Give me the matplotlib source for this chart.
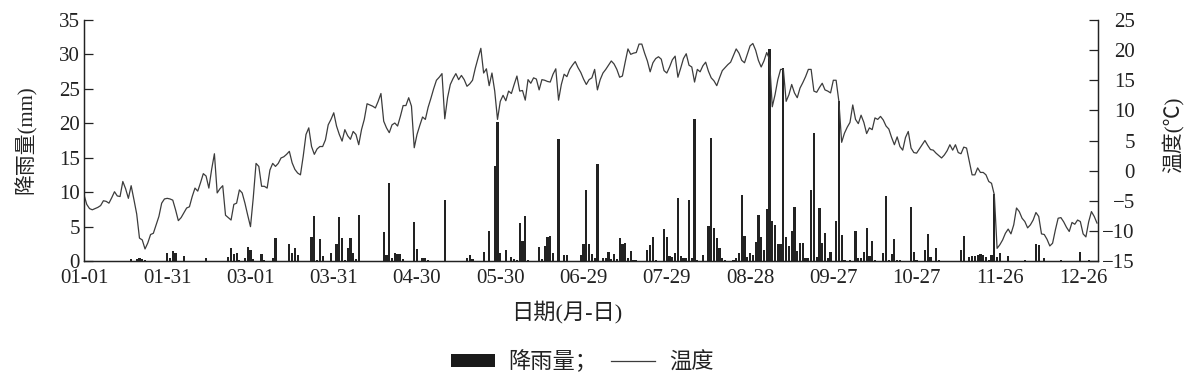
import numpy as np
import matplotlib.pyplot as plt
from matplotlib.patches import Rectangle
from matplotlib.lines import Line2D

# daily mean temperature (°C), 2016-01-01 .. 2016-12-31
temp = [
    -4.0, -5.6, -6.3, -6.5, -6.3, -6.1, -5.8, -5.0, -5.1, -5.4,
    -4.5, -3.5, -4.2, -4.3, -1.8, -3.0, -4.6, -2.5, -4.8, -7.2,
    -11.2, -11.5, -13.0, -12.0, -10.6, -10.4, -9.0, -7.6, -5.4, -4.7,
    -4.6, -4.7, -4.9, -6.5, -8.3, -7.8, -7.0, -6.2, -6.0, -4.3,
    -2.9, -3.4, -2.0, -0.5, -0.9, -2.9, 0.2, 2.8, -3.7, -3.0,
    -2.5, -7.4, -7.8, -8.2, -5.6, -5.4, -3.2, -3.7, -5.4, -7.4,
    -9.3, -4.5, 1.2, 0.7, -2.6, -2.6, -2.9, 0.1, 1.2, 0.7,
    1.2, 2.1, 2.3, 2.7, 3.2, 1.3, 0.2, -0.4, -0.7, 2.4,
    6.0, 7.1, 4.0, 2.7, 3.6, 4.0, 4.0, 5.1, 7.6, 8.5,
    9.6, 7.4, 6.0, 4.9, 6.8, 5.8, 5.2, 6.5, 6.0, 4.3,
    6.8, 8.5, 11.1, 10.9, 10.7, 10.4, 11.5, 12.8, 8.2, 7.1,
    6.3, 7.6, 7.9, 7.4, 9.0, 10.8, 10.8, 12.1, 10.7, 3.8,
    6.0, 7.5, 8.9, 8.5, 10.5, 12.0, 13.6, 15.0, 15.5, 16.1,
    8.6, 12.1, 14.3, 15.3, 16.1, 15.1, 15.8, 15.1, 14.0, 14.4,
    15.0, 17.0, 18.7, 20.3, 16.2, 16.9, 14.1, 16.2, 13.2, 8.5,
    11.5, 12.5, 11.6, 13.2, 12.8, 14.3, 15.7, 13.2, 13.3, 11.7,
    15.1, 14.5, 15.4, 15.2, 13.4, 15.1, 15.0, 14.8, 14.7, 16.0,
    16.9, 11.7, 14.3, 16.0, 15.6, 16.8, 17.5, 18.1, 17.1, 16.3,
    15.2, 14.3, 15.1, 15.4, 16.8, 13.4, 15.1, 16.2, 16.8, 17.5,
    18.2, 17.7, 16.8, 15.5, 15.7, 18.0, 20.2, 19.3, 19.5, 19.6,
    21.0, 21.0, 19.5, 18.2, 16.4, 17.9, 18.6, 18.9, 18.5, 16.6,
    16.2, 17.2, 18.4, 19.0, 15.5, 17.0, 18.6, 19.4, 17.5, 17.2,
    14.7, 16.8, 16.4, 17.4, 18.0, 16.5, 15.4, 14.9, 14.1, 15.4,
    16.6, 17.1, 17.6, 18.0, 19.1, 20.2, 19.5, 18.3, 17.9, 19.3,
    20.7, 21.1, 20.0, 18.3, 17.2, 18.2, 19.6, 18.5, 10.6, 12.6,
    15.1, 16.8, 16.8, 11.5, 12.6, 14.3, 12.9, 12.1, 13.7, 14.6,
    15.6, 16.8, 16.8, 13.2, 13.0, 13.8, 14.5, 13.4, 13.2, 12.9,
    15.0, 15.0, 11.5, 4.7, 6.2, 7.2, 8.0, 10.9, 8.5, 7.8,
    9.2, 8.0, 6.15, 7.1, 6.8, 8.75, 8.5, 9.0, 8.4, 7.4,
    6.9, 5.5, 4.3, 5.6, 4.0, 3.4, 5.5, 6.5, 3.75, 3.0,
    2.9, 3.6, 4.3, 5.0, 4.2, 3.5, 3.4, 2.9, 2.5, 2.1,
    2.6, 3.3, 4.3, 3.4, 4.3, 3.0, 2.8, 3.9, 3.75, 1.55,
    -0.7, -0.7, 0.45, -0.3, -0.3, -0.7, -1.8, -2.1, -4.0, -12.9,
    -12.3, -11.5, -10.4, -9.7, -10.5, -9.0, -6.2, -6.8, -7.9, -8.45,
    -9.5, -9.0, -8.2, -6.95, -7.6, -10.5, -10.6, -11.4, -12.5, -12.05,
    -9.85, -7.9, -7.8, -8.5, -9.4, -10.1, -8.6, -8.9, -8.2, -8.45,
    -10.5, -11.0, -8.5, -6.8, -7.6, -8.7,
]

# daily rainfall (mm)
rain = [
    0, 0, 0, 0, 0, 0, 0, 0, 0, 0,
    0, 0, 0, 0, 0, 0, 0, 0.25, 0, 0.3,
    0.4, 0.3, 0.2, 0, 0, 0, 0, 0, 0, 0,
    1.1, 0.4, 1.5, 1.2, 0, 0, 0.7, 0, 0, 0,
    0, 0, 0, 0, 0.4, 0, 0, 0, 0, 0,
    0, 0, 0.6, 1.85, 1.0, 1.1, 0.2, 0, 0.5, 2.0,
    1.6, 0.3, 0, 0, 1.0, 0.2, 0, 0, 0.5, 3.4,
    0, 0, 0, 0, 2.4, 1.1, 1.85, 0.9, 0, 0,
    0, 0, 3.45, 6.5, 0.2, 3.15, 0.7, 0, 0, 1.1,
    0, 2.5, 6.35, 3.4, 0.2, 1.85, 3.35, 1.2, 0.3, 6.7,
    0, 0, 0, 0, 0, 0, 0, 0, 4.2, 0.9,
    11.4, 0.5, 1.2, 1.0, 1.0, 0.3, 0, 0, 0, 5.7,
    1.75, 0, 0.5, 0.5, 0.2, 0, 0, 0, 0, 0,
    8.8, 0, 0, 0, 0, 0, 0, 0, 0.5, 0.85,
    0.3, 0, 0, 0, 1.35, 0, 4.4, 0, 13.75, 20.25,
    1.1, 0, 1.6, 0, 0.6, 0.3, 0.2, 5.5, 2.95, 6.6,
    0.2, 0, 0, 0, 2.05, 0.3, 2.2, 3.45, 3.6, 1.15,
    0, 17.7, 0, 0.9, 0.9, 0, 0, 0, 0, 0.9,
    2.5, 10.3, 2.4, 1.0, 0.5, 14.1, 0, 0.5, 0.4, 1.35,
    0.3, 1.0, 0.3, 3.3, 2.4, 2.55, 0.4, 1.45, 0.2, 0.2,
    0, 0, 0, 1.6, 2.3, 3.45, 0.2, 0, 0, 4.6,
    3.45, 0.7, 0.6, 1.2, 9.1, 0.7, 0.4, 0.4, 8.8, 0.4,
    20.6, 0.2, 0, 0.9, 0, 5.1, 17.8, 4.75, 3.3, 1.85,
    0.5, 0.2, 0, 0, 0.2, 0.4, 1.2, 9.6, 3.6, 0.6,
    1.2, 0.9, 2.8, 6.7, 3.5, 1.6, 7.6, 30.8, 5.8, 5.3,
    2.5, 2.5, 28.0, 3.45, 2.2, 4.3, 7.9, 1.5, 2.55, 2.55,
    0.5, 0.4, 10.3, 18.6, 0.6, 7.65, 2.65, 4.0, 0.5, 1.35,
    0, 5.85, 23.3, 3.8, 0.2, 0, 0.2, 0, 4.4, 0.5,
    0.4, 1.35, 4.8, 0.7, 2.95, 0.2, 0, 0, 1.2, 9.5,
    0.2, 1.0, 3.15, 0.2, 0.1, 0, 0, 0, 7.9, 1.35,
    0.1, 0, 0, 1.6, 3.9, 0.6, 0, 1.85, 0.2, 0,
    0, 0, 0, 0, 0, 0, 1.6, 3.6, 0, 0.6,
    0.7, 0.8, 0.9, 1.0, 0.9, 0.6, 0.2, 0.9, 9.7, 0.6,
    1.2, 0, 0, 0.8, 0, 0, 0, 0, 0, 0.1,
    0, 0, 0, 2.4, 2.3, 0, 0.5, 0, 0, 0,
    0, 0, 0.2, 0, 0, 0, 0, 0, 0, 1.3,
    0, 0, 0.1, 0, 0, 0,
]

tick_labels = ['01-01', '01-31', '03-01', '03-31', '04-30', '05-30', '06-29',
               '07-29', '08-28', '09-27', '10-27', '11-26', '12-26']

plt.rcParams['font.family'] = ['Liberation Serif', 'Noto Sans CJK SC']
plt.rcParams['axes.unicode_minus'] = True

fig = plt.figure(figsize=(11.91, 3.78), dpi=100)
ax = fig.add_axes([0.0705, 0.3095, 0.8515, 0.6376])
ax2 = ax.twinx()

days = np.arange(len(temp))
ax.bar(days, rain, width=0.8, color='#222222', linewidth=0, zorder=3)
ax2.plot(days, temp, color='#3c3c3c', lw=0.9)

ax.set_xlim(0, 365.4)
ax.set_ylim(0, 35)
ax2.set_ylim(-15, 25)

ax.set_xticks(days[::30][:len(tick_labels)])
ax.set_xticklabels(tick_labels)
ax.set_yticks(np.arange(0, 36, 5))
ax2.set_yticks(np.arange(-15, 26, 5))

ax.tick_params(axis='x', length=0, pad=6, labelsize=15, colors='#222222')
ax.tick_params(axis='y', direction='in', length=6.5, width=0.9, pad=3,
               labelsize=15, colors='#222222')
ax2.tick_params(axis='y', direction='in', length=6.5, width=0.9, pad=26.5,
                labelsize=15, colors='#222222')
plt.setp(ax2.get_yticklabels(), ha='right')

for a in (ax, ax2):
    a.spines['top'].set_visible(False)
    for s in ('left', 'right', 'bottom'):
        a.spines[s].set_linewidth(0.9)
        a.spines[s].set_color('#222222')

fig.text(26 / 1191, 1 - 140 / 378, '降雨量(mm)', rotation=90, ha='center',
         va='center', fontsize=15, color='#222222')
fig.text(1174 / 1191, 1 - 135 / 378, '温度(℃)', rotation=90, ha='center',
         va='center', fontsize=15, color='#222222')
fig.text(567 / 1191, 1 - 312 / 378, '日期(月-日)', ha='center', va='center',
         fontsize=16, color='#222222')

handles = [Rectangle((0, 0), 1, 1, fc='#1a1a1a', ec='none'),
           Line2D([], [], color='#3c3c3c', lw=0.9)]
fig.legend(handles, ['降雨量；', '温度'], loc='center',
           bbox_to_anchor=(582 / 1191, 0.042), ncol=2, frameon=False,
           fontsize=16, handlelength=2.0, handleheight=0.55,
           handletextpad=0.6, columnspacing=0.6, labelcolor='#222222')

fig.savefig('out.png', dpi=100)
